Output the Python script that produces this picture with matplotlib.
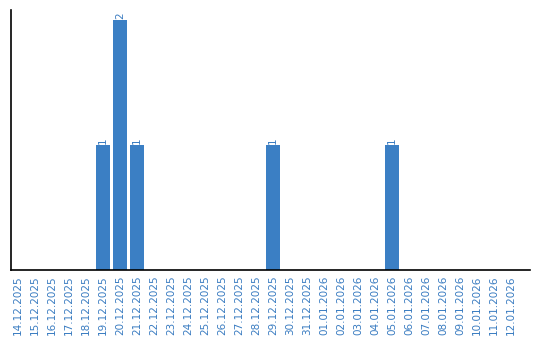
import matplotlib
matplotlib.use("Agg")
import matplotlib.pyplot as plt
import pandas as pd

dates = pd.date_range("2025-12-14", "2026-01-12", freq="D")
labels = [d.strftime("%d.%m.%Y") for d in dates]
counts_by_date = {"19.12.2025": 1, "20.12.2025": 2, "21.12.2025": 1, "29.12.2025": 1, "05.01.2026": 1}
values = [counts_by_date.get(lbl, 0) for lbl in labels]

BAR_COLOR = "#3b7fc4"
TEXT_COLOR = "#3a7cc1"

fig = plt.figure(figsize=(5.4, 3.4), dpi=100)
ax = fig.add_axes([11 / 540, 70 / 340, 519 / 540, 260 / 340])

x = list(range(len(labels)))
ax.bar(x, values, width=0.82, color=BAR_COLOR)
for xi, v in zip(x, values):
    if v > 0:
        ax.text(xi, v + 0.01, str(v), rotation=90, ha="center", va="bottom",
                fontsize=7.5, color=TEXT_COLOR)

ax.set_xlim(-0.41, 30.1)
ax.set_ylim(0, 2.08)
ax.set_xticks(x)
ax.set_xticklabels(labels, rotation=90, fontsize=7.5, color=TEXT_COLOR)
ax.tick_params(axis="x", length=0, pad=4)
ax.set_yticks([])
for side in ("top", "right"):
    ax.spines[side].set_visible(False)
for side in ("left", "bottom"):
    ax.spines[side].set_linewidth(1.2)

fig.savefig("out.png", dpi=100)
